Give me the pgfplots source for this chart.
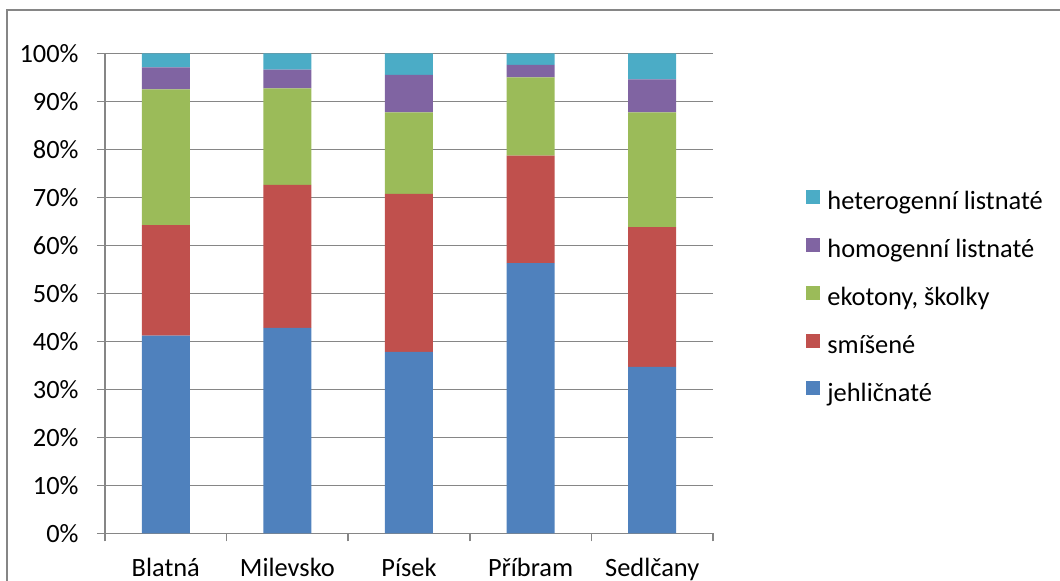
\documentclass[border=0pt]{standalone}
\usepackage{pgfplots}
\pgfplotsset{compat=1.18}
\usepackage{fontspec}
\setmainfont{Carlito}
\definecolor{cBlue}{HTML}{4F81BD}
\definecolor{cRed}{HTML}{C0504D}
\definecolor{cGreen}{HTML}{9BBB59}
\definecolor{cPurple}{HTML}{8064A2}
\definecolor{cCyan}{HTML}{4BACC6}
\definecolor{axgray}{HTML}{868686}
\begin{document}
\fontsize{13.2}{15}\selectfont
\begin{tikzpicture}
\useasboundingbox (0,0) rectangle (530pt,-290.5pt);
\begin{scope}
\clip (0,0) rectangle (530pt,-290.5pt);
\draw[line width=0.8pt, color=axgray] (3.5pt,-5pt) rectangle (560pt,-320pt);
\end{scope}
\begin{axis}[
  at={(52.5pt,-266.67pt)}, anchor=south west,
  scale only axis, width=304pt, height=240pt,
  ybar stacked, bar width=24pt,
  xmin=-0.5, xmax=4.5, ymin=0, ymax=100,
  enlargelimits=false,
  xtick={-0.5,0.5,1.5,2.5,3.5,4.5},
  x tick label as interval,
  xticklabels={Blatná,Milevsko,Písek,Příbram,Sedlčany},
  ytick={0,10,...,100},
  yticklabel={\pgfmathprintnumber{\tick}\%},
  /pgf/number format/assume math mode=true,
  axis x line*=bottom, axis y line*=left,
  axis line style={color=axgray, line width=0.8pt},
  tick style={color=axgray, line width=0.8pt},
  tick align=outside,
  major tick length=4pt,
  ymajorgrids, grid style={color=axgray, line width=0.8pt},
  yticklabel style={anchor=east, inner sep=0pt, xshift=-9pt},
  xticklabel style={anchor=base, inner sep=0pt, yshift=-17.5pt},
  ticklabel style={font=\fontsize{13.2}{15}\selectfont, text=black},
  reverse legend,
  legend image code/.code={\fill[#1] (0pt,0pt) rectangle (7pt,7pt);},
  legend style={draw=none, fill=none, at={(1.153,0.49)}, anchor=west,
    inner sep=0pt, row sep=11.45pt, column sep=3.5pt,
    font=\fontsize{13.2}{15}\selectfont,
    nodes={inner sep=0pt, text height=8.5pt, text depth=2.5pt}},
  legend cell align=left,
]
\addplot+[fill=cBlue, draw=none] coordinates {(0,41.2) (1,42.8) (2,37.8) (3,56.3) (4,34.7)};
\addlegendentry{jehličnaté}
\addplot+[fill=cRed, draw=none] coordinates {(0,23.0) (1,29.8) (2,32.9) (3,22.4) (4,29.1)};
\addlegendentry{smíšené}
\addplot+[fill=cGreen, draw=none] coordinates {(0,28.3) (1,20.1) (2,17.0) (3,16.3) (4,23.9)};
\addlegendentry{ekotony, školky}
\addplot+[fill=cPurple, draw=none] coordinates {(0,4.6) (1,3.9) (2,7.8) (3,2.6) (4,6.9)};
\addlegendentry{homogenní listnaté}
\addplot+[fill=cCyan, draw=none] coordinates {(0,2.9) (1,3.4) (2,4.5) (3,2.4) (4,5.4)};
\addlegendentry{heterogenní listnaté}
\end{axis}
\end{tikzpicture}
\end{document}
